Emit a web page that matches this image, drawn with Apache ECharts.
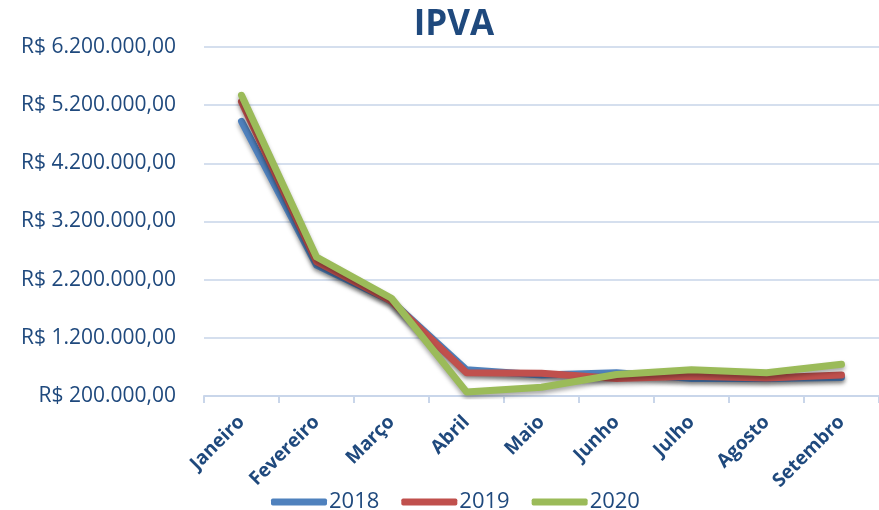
<!DOCTYPE html>
<html>
<head>
<meta charset="utf-8" />
<title>IPVA</title>
<script src="https://cdn.jsdelivr.net/npm/echarts@6/dist/echarts.min.js"></script>
<style>
  html, body { margin: 0; padding: 0; background: #fff; }
  #chart { width: 879px; height: 510px; }
</style>
</head>
<body>
<div id="chart"></div>
<script>
// meses
var meses = ['Janeiro', 'Fevereiro', 'Março', 'Abril', 'Maio', 'Junho', 'Julho', 'Agosto', 'Setembro'];

// valores (R$)
var v2018 = [4920000, 2450000, 1830000, 650000, 560000, 600000, 500000, 500000, 520000];
var v2019 = [5260000, 2510000, 1830000, 600000, 590000, 500000, 540000, 510000, 560000];
var v2020 = [5370000, 2590000, 1880000, 270000, 350000, 570000, 650000, 600000, 745000];

var anos = ['2018', '2019', '2020'];
var cores = ['#4F81BD', '#C0504D', '#9BBB59'];
var azul = '#1F497D';

function moeda(v) {
  var s = String(Math.round(v)).replace(/\B(?=(\d{3})+(?!\d))/g, '.');
  return 'R$ ' + s + ',00';
}

function serie(nome, dados, cor) {
  return {
    name: nome,
    type: 'line',
    data: dados,
    symbol: 'none',
    lineStyle: {
      width: 7,
      color: cor,
      cap: 'round',
      join: 'round',
      shadowColor: 'rgba(0,0,0,0.35)',
      shadowBlur: 4,
      shadowOffsetY: 3
    },
    itemStyle: { color: cor }
  };
}

var chart = echarts.init(document.getElementById('chart'));
chart.setOption({
  animation: false,
  title: {
    text: 'IPVA',
    left: 449,
    textAlign: 'center',
    top: 3,
    textStyle: { fontFamily: 'Open Sans', fontSize: 35, fontWeight: 'bold', color: azul }
  },
  legend: {
    top: 486,
    left: 266,
    itemWidth: 56,
    itemHeight: 7,
    itemGap: 22,
    icon: 'roundRect',
    data: anos,
    textStyle: { fontFamily: 'Open Sans', fontSize: 22, color: azul, padding: [0, 0, 0, -3] }
  },
  grid: { left: 204, right: -6, top: 47, bottom: 114 },
  xAxis: {
    type: 'category',
    data: meses,
    boundaryGap: true,
    axisLine: { lineStyle: { color: '#C9D6EA', width: 2 } },
    axisTick: { show: true, length: 7, lineStyle: { color: '#C9D6EA', width: 2 } },
    axisLabel: {
      rotate: 45,
      margin: 23,
      fontFamily: 'Open Sans',
      fontSize: 19,
      fontWeight: 'bold',
      color: azul
    }
  },
  yAxis: {
    type: 'value',
    min: 200000,
    max: 6200000,
    interval: 1000000,
    axisLine: { show: false },
    axisTick: { show: false },
    splitLine: { lineStyle: { color: '#D5DFEE', width: 2 } },
    axisLabel: {
      margin: 28,
      fontFamily: 'Open Sans',
      fontSize: 21,
      color: azul,
      formatter: moeda
    }
  },
  series: [
    serie(anos[0], v2018, cores[0]),
    serie(anos[1], v2019, cores[1]),
    serie(anos[2], v2020, cores[2])
  ]
});
</script>
</body>
</html>
